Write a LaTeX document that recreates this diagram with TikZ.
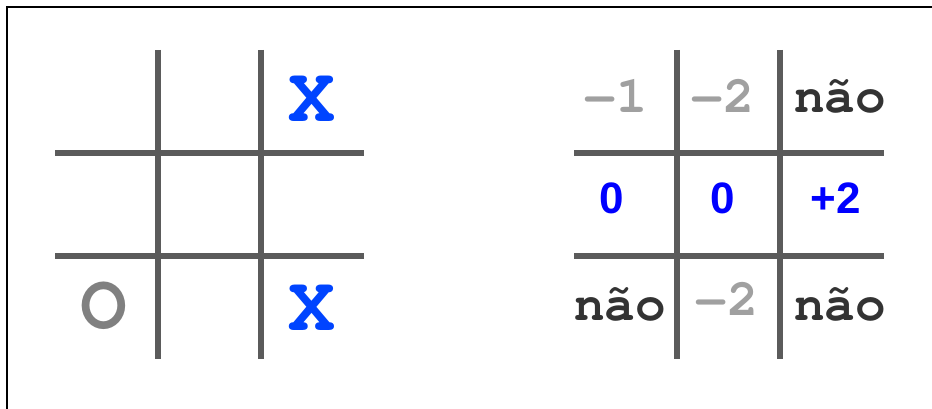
\documentclass[tikz,border=0pt]{standalone}
\usepackage{fontspec}
\newfontfamily\cellmono{texgyrecursor-bold.otf}
\newfontfamily\cellsans{Liberation Sans}[BoldFont={Liberation Sans Bold}]
\usepackage{xcolor}
\definecolor{gridgray}{RGB}{91,91,91}
\definecolor{xblue}{RGB}{0,68,255}
\definecolor{ogray}{RGB}{128,128,128}
\definecolor{lossgray}{RGB}{160,160,160}
\definecolor{nogray}{RGB}{51,51,51}
\definecolor{gainblue}{RGB}{0,0,255}

\begin{document}
\begin{tikzpicture}[
    x=1pt, y=-1pt,
    gridline/.style={draw=gridgray, line width=6pt},
    cell/.style={anchor=base, inner sep=0pt},
    markx/.style={cell, text=xblue, font=\cellmono\fontsize{78}{78}\selectfont},
    marko/.style={cell, text=ogray, font=\cellmono\fontsize{78}{78}\selectfont},
    loss/.style={cell, text=lossgray, font=\cellmono\fontsize{52}{52}\selectfont},
    blocked/.style={cell, text=nogray, font=\cellmono\fontsize{51}{51}\selectfont},
    gain/.style={cell, text=gainblue, font=\cellsans\bfseries\fontsize{44}{44}\selectfont}
  ]
    \useasboundingbox (0,0) rectangle (932,409);
    \draw [line width=2pt] (7,409) -- (7,7) -- (932,7);

    % board
    \draw [gridline] (158,50) -- (158,359);
    \draw [gridline] (261,50) -- (261,359);
    \draw [gridline] (55,153) -- (364,153);
    \draw [gridline] (55,256) -- (364,256);

    \node (b13) [markx] at (312,122) {X};
    \node (b33) [markx] at (312,330) {X};
    \node (b31) [marko] at (104,328) {O};

    % scores
    \draw [gridline] (677,50) -- (677,359);
    \draw [gridline] (780,50) -- (780,359);
    \draw [gridline] (574,153) -- (884,153);
    \draw [gridline] (574,256) -- (884,256);

    \node (s11) [loss] at (616,113) {−1};
    \node (s12) [loss] at (723,113) {−2};
    \node (s13) [blocked] at (840,113) {não};
    \node (s21) [gain] at (612,213) {0};
    \node (s22) [gain] at (723,213) {0};
    \node (s23) [gain] at (836,213) {+2};
    \node (s31) [blocked] at (620,320) {não};
    \node (s32) [loss] at (727,315) {−2};
    \node (s33) [blocked] at (840,320) {não};
  \end{tikzpicture}
\end{document}
